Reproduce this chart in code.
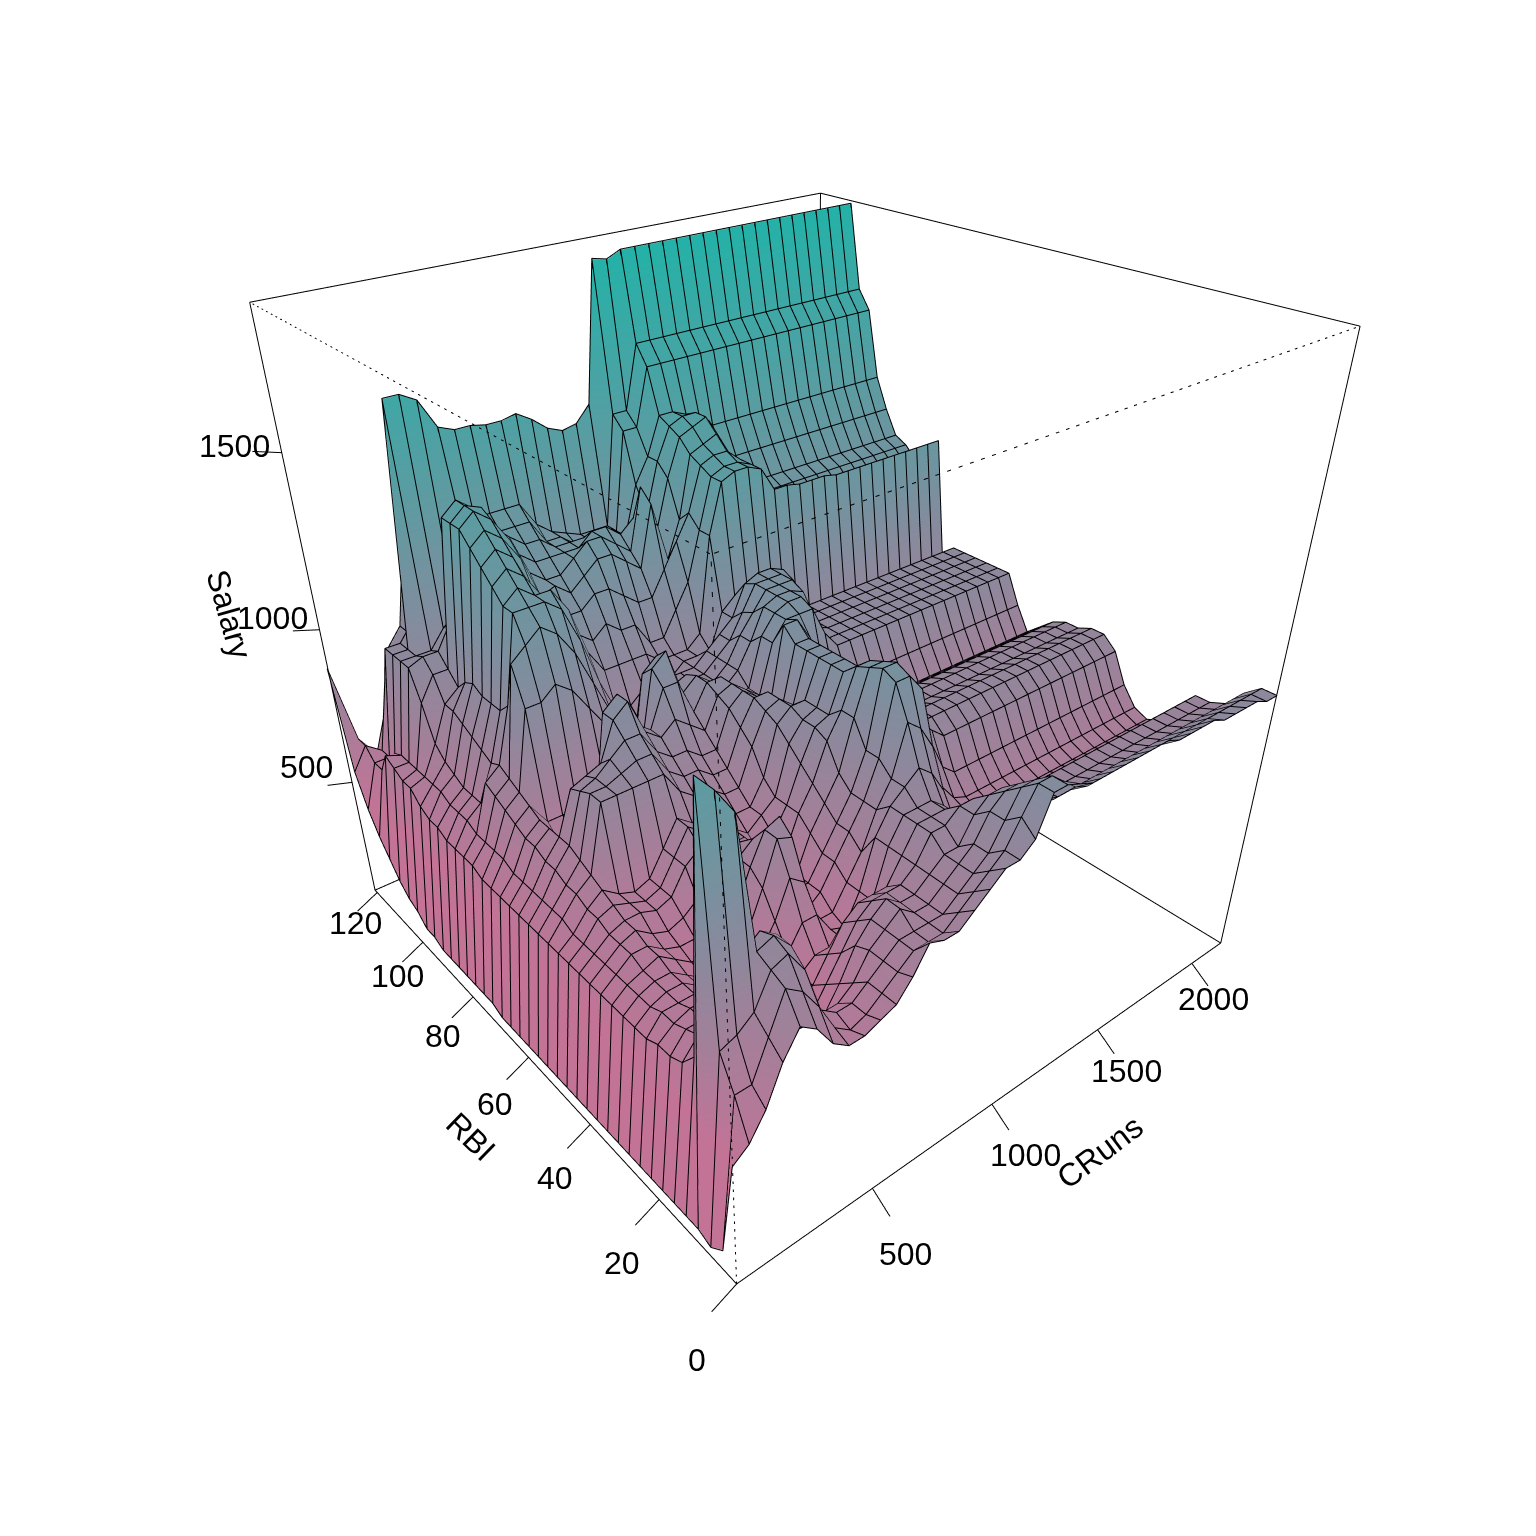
import numpy as np, plotly.graph_objects as go

crun_ticks=[500,1000,1500,2000]
rbi_ticks=[0,20,40,60,80,100,120]
salary_ticks=[500,1000,1500]
CR=(1,2165); RB=(0,121); SA=(100,1870)
# heights, percent of the salary span, rows = RBI (front to back), columns = CRuns
h_rows=[
[22,24,28,34,38,36,32,30,30,31,32,35,39,38,38,40,42,44,44,46,52,52,51,50,50,50,50,50,50,50,49,49,49,49,48,48,48,48,47,47],
[4,30,30,36,42,40,36,31,29,30,32,34,36,36,36,38,40,42,44,48,52,52,50,48,47]+[47]*15,
[2,35,36,38,43,44,40,32,30,30,32,34,36,36,36,36,38,40,42,46,50,50,47,45,45]+[45]*15,
[3,72,69,65,44,45,42,32,28,28,30,34,36,38,36,36,38,40,42,46,48,48,44,43,42]+[42]*15,
[3,30,30,34,42,44,42,30,24,24,28,33,36,38,36,36,38,40,40,44,46,46,42,41,40]+[41]*15,
[3,27,30,30,31,32,30,24,21,22,26,30,34,36,36,36,38,42,42,44,44,42,40,40,40]+[41]*15,
[3,26,29,29,29,28,25,22,20,21,24,28,32,34,34,34,38,42,42,42,40,38,36,36,37]+[37]*15,
[3,26,28,29,29,27,25,22,20,22,24,26,26,26,26,30,38,42,42,42,40,36,34,34,33]+[34]*15,
[3,25,28,28,28,26,24,22,22,24,26,30,30,26,25,30,38,42,44,46,44,40,34,34,33]+[33]*15,
[3,25,27,28,28,26,24,23,24,26,30,36,34,26,26,30,34,40,44,52,50,46,38,35,34]+[34]*15,
[3,25,27,28,28,26,24,24,25,28,34,41,40,26,28,32,36,40,46,57,57,54,44,39,37]+[37]*15,
[3,25,27,28,29,27,25,25,26,30,36,41,42,28,28,32,36,40,46,58,58,54,46,44,42]+[42]*15,
[3,25,27,29,29,27,26,26,28,32,36,38,38,30,28,34,38,42,50,57,57,52,46,44,44]+[44]*15,
[3,25,27,29,30,28,27,28,30,34,36,36,34,30,30,36,40,46,50,56,56,50,45,44,44]+[44]*15,
[3,25,27,29,30,30,29,30,34,36,36,34,34,30,32,36,42,47,48,54,54,48,44,43,43]+[43]*15,
[3,25,27,30,31,30,29,30,34,38,36,34,34,32,34,36,44,47,48,54,54,48,44,43,43]+[43]*15,
[3,25,27,30,32,30,29,30,34,38,36,34,36,34,34,38,46,48,48,54,54,48,43,42,42]+[42]*15,
[3,25,28,31,33,44,44,44,44,44,40,38,38,36,36,42,47,48,46,54,54,48,42,40,40]+[40]*15,
[3,25,28,31,34,44,44,45,46,46,42,40,40,38,38,44,48,48,44,54,54,50,42,38,38]+[38]*15,
[3,25,28,32,35,43,44,46,48,48,44,42,42,40,40,46,48,46,44,56,56,52,46,42,42]+[42]*15,
[3,25,28,32,35,42,43,44,50,52,46,44,46,44,42,47,48,46,44,52,55,55,55,50,47]+[47]*15,
[3,25,28,33,35,30,32,34,50,52,46,44,50,50,44,48,48,44,44,52,55,56,56,52,47]+[47]*15,
[3,25,28,33,35,30,30,32,36,40,40,40,52,54,46,48,46,44,46,50,55,56,56,55,48]+[47]*15,
[4,25,29,34,36,32,32,32,32,34,36,36,50,52,46,47,44,44,46,50,53,56,56,56,52]+[47]*15,
[4,25,29,35,37,50,50,52,50,46,42,38,40,42,42,44,44,44,46,48,52,56,56,56,54]+[47]*15,
[4,26,29,36,38,56,58,60,58,54,48,42,38,38,42,44,44,44,46,48,50,55,56,56,55]+[47]*15,
[4,26,29,37,39,48,62,62,62,60,54,46,40,40,42,42,42,44,44,44,50,52,52,52,50]+[45]*15,
[4,26,30,32,38,46,62,64,62,62,58,50,46,46,46,46,44,44,44,46,62,70,71,71,70,66,66,65.5,65.5,65.5,65,65,65,65,65,65,65,65,65,65],
[4,26,30,32,39,46,64,66,64,60,58,52,50,52,50,50,46,46,50,54,62,70,71,71,70]+[63]*15,
[4,27,30,32,40,46,66,68,66,60,54,54,54,56,56,54,52,52,56,60,64,71,72,72,70]+[60]*15,
[5,27,31,33,41,47,68,70,68,64,57,58,56,58,60,60,58,56,66,56,62,72,73,74,70]+[62]*15,
[5,28,31,34,42,46,70,72,70,66,60,58,58,60,62,62,60,58,68,60,68,74,75,76,72]+[63]*15,
[7,30,31,36,42,44,70,72,71,66,62,60,60,60,60,62,62,60,62,62,70,75,76,76,74]+[67]*15,
[8,30,31,42,46,46,70,72,70,66,64,62,62,60,60,60,60,60,58,66,70,76,76,75,74]+[72]*15,
[10,31,31,47,48,48,52,66,68,66,64,64,64,60,60,58,58,58,58,74,74,83,83,83,83]+[83]*15,
[13,32,31,47,47,47,50,52,68,66,66,66,66,62,60,59,58,58,58,76,76,86,86,86,86]+[86]*15,
[16,28,30,47,47,86,86,84.6,80,79,79,78.5,78.5,79,77.5,75.5,74.5,75,77.5,99,98.5,99.5,99.5,99.5,99.5]+[99.5]*15,
[20,28,28,47,47,50,60,60,60,60,60,60,60,60,60,60,60,60,60,70,70,70,70,70,70]+[70]*15,
[26,30,28,40,44,47,60,60,60,60,60,60,60,60,60,60,60,60,60,70,70,70,70,70,70]+[70]*15,
[44,30,26,33,44,47,60,60,60,60,60,60,60,60,60,60,60,60,60,70,70,70,70,70,70]+[70]*15,
]
h=np.array(h_rows,float)
Z=SA[0]+h/100*(SA[1]-SA[0])
ny,nx=Z.shape
X=np.linspace(*CR,nx);Y=np.linspace(*RB,ny)

def U(a): return CR[0]+a*(CR[1]-CR[0])
def V(a): return RB[0]+a*(RB[1]-RB[0])
def W(a): return SA[0]+a*(SA[1]-SA[0])
solid=[(0,0,0,1,0,0),(0,0,0,0,1,0),(1,1,0,1,0,0),(1,1,0,0,1,0),(0,1,1,1,1,1),(1,0,1,1,1,1),(1,0,0,1,0,1),(0,1,0,0,1,1),(1,1,0,1,1,1)]
dotted=[(0,0,0,0,0,1),(0,0,1,1,0,1),(0,0,1,0,1,1)]
def seg(L):
    xs,ys,zs=[],[],[]
    for a in L:
        xs+=[U(a[0]),U(a[3]),None];ys+=[V(a[1]),V(a[4]),None];zs+=[W(a[2]),W(a[5]),None]
    return xs,ys,zs
tk=[];ann=[]
fnt=dict(family="Liberation Sans",size=32,color="black")
rbi_shift=[(14,-18),(14,-10),(14,-4),(14,0),(15,4),(18,7),(20,8)]
crun_shift=[(-2,-10),(-1,0),(-5,6),(-11,9)]
sal_shift=[(31,17),(37,7),(46,-7)]
for t,s in zip(rbi_ticks,rbi_shift):
    v=(t-RB[0])/(RB[1]-RB[0]);tk.append((0,v,0,-.04,v,-.02))
    ann.append(dict(x=U(-.085),y=t,z=W(-.04),text=str(t),showarrow=False,font=fnt,xshift=s[0],yshift=s[1]))
for t,s in zip(crun_ticks,crun_shift):
    u=(t-CR[0])/(CR[1]-CR[0]);tk.append((u,0,0,u,-.035,-.023))
    ann.append(dict(x=t,y=V(-.07),z=W(-.044),text=str(t),showarrow=False,font=fnt,xshift=s[0],yshift=s[1]))
for t,s in zip(salary_ticks,sal_shift):
    w=(t-SA[0])/(SA[1]-SA[0]);tk.append((0,1,w,-.04,1,w+.012))
    ann.append(dict(x=U(-.12),y=V(1),z=W(w+.05),text=str(t),showarrow=False,font=fnt,xshift=s[0],yshift=s[1]))

xg,yg=np.meshgrid(X,Y)
idx=np.arange(nx*ny).reshape(ny,nx)
a=idx[:-1,:-1].ravel();b=idx[:-1,1:].ravel();c=idx[1:,1:].ravel();d=idx[1:,:-1].ravel()
fig=go.Figure()
fig.add_trace(go.Mesh3d(x=xg.ravel(),y=yg.ravel(),z=Z.ravel(),i=np.r_[a,a],j=np.r_[b,c],k=np.r_[c,d],
  intensity=Z.ravel(),cmin=SA[0],cmax=SA[1],showscale=False,hoverinfo='skip',
  colorscale=[[0,'rgb(195,115,150)'],[.2,'rgb(195,115,150)'],[1,'rgb(35,178,168)']],
  lighting=dict(ambient=1,diffuse=0,specular=0,roughness=1,fresnel=0)))
ox,oy,oz=-.0015*(CR[1]-CR[0]),-.0015*(RB[1]-RB[0]),.0015*(SA[1]-SA[0])
wx,wy,wz=[],[],[]
for r in range(ny):
    wx+=list(X+ox)+[None];wy+=[Y[r]+oy]*nx+[None];wz+=list(Z[r]+oz)+[None]
for q in range(nx):
    wx+=[X[q]+ox]*ny+[None];wy+=list(Y+oy)+[None];wz+=list(Z[:,q]+oz)+[None]
fig.add_trace(go.Scatter3d(x=wx,y=wy,z=wz,mode='lines',line=dict(color='black',width=2),hoverinfo='skip'))
for L,dd in ((solid,'solid'),(dotted,'dot'),(tk,'solid')):
    xs,ys,zs=seg(L)
    fig.add_trace(go.Scatter3d(x=xs,y=ys,z=zs,mode='lines',line=dict(color='black',width=2,dash=dd),hoverinfo='skip'))
E=.2
def ext(R): return [R[0]-E*(R[1]-R[0]),R[1]+E*(R[1]-R[0])]
def title(t,x,y,ang):
    return dict(x=(x-8)/1520,y=1-(y-8)/1520,xref='paper',yref='paper',showarrow=False,text=t,textangle=ang,font=fnt,xanchor='center',yanchor='middle')
fig.update_layout(width=1520,height=1520,margin=dict(l=0,r=0,t=0,b=0),showlegend=False,paper_bgcolor='white',
 scene=dict(domain=dict(x=[0,1],y=[1-1322/1520,1-172/1520]),aspectmode='manual',aspectratio=dict(x=1.0008*(1+2*E),y=1.0107*(1+2*E),z=1.0001*(1+2*E)),
  xaxis=dict(visible=False,range=ext(CR)),yaxis=dict(visible=False,range=ext(RB)),zaxis=dict(visible=False,range=ext(SA)),
  annotations=ann,
  camera=dict(eye=dict(x=-1.1409,y=-1.3766,z=1.0123),center=dict(x=-1.1245,y=-1.3562,z=.9949),up=dict(x=.6717,y=.8101,z=1))),
 annotations=[title('RBI',471,1137,44),title('CRuns',1100,1152,-37),title('Salary',229,614,74)])
fig.write_html("out.html")
